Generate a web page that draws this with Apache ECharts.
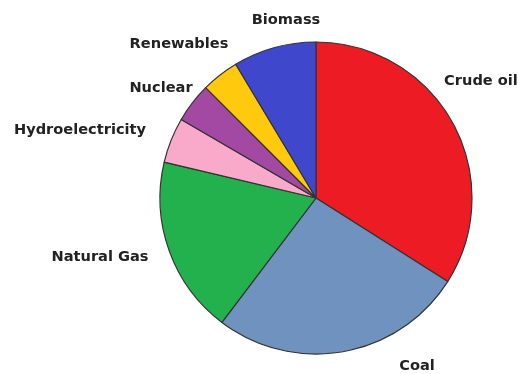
<!DOCTYPE html>
<html>
<head>
<meta charset="utf-8">
<script src="https://cdn.jsdelivr.net/npm/echarts@6/dist/echarts.min.js"></script>
<style>
html,body{margin:0;padding:0;background:#fff;}
#chart{width:518px;height:374px;}
</style>
</head>
<body>
<div id="chart"></div>
<script>
const categories = ['Crude oil', 'Coal', 'Natural Gas', 'Hydroelectricity', 'Nuclear', 'Renewables', 'Biomass'];
const values = [34.0, 26.3, 18.4, 4.7, 4.1, 3.9, 8.6];
const colors = ['#ED1C24', '#7092BE', '#22B14C', '#F9A9C9', '#A349A4', '#FFC90E', '#3F48CC'];
// label anchor points (layout, not data)
const labelPos = [[481, 81], [417, 366], [100, 257], [80, 130], [161, 88], [179, 44], [286, 20]];

const chart = echarts.init(document.getElementById('chart'), null, {renderer: 'canvas'});
chart.setOption({
  animation: false,
  backgroundColor: '#ffffff',
  series: [{
    type: 'pie',
    center: [316, 198],
    radius: 156,
    startAngle: 90,
    clockwise: true,
    avoidLabelOverlap: false,
    data: categories.map((c, i) => ({name: c, value: values[i], itemStyle: {color: colors[i]}})),
    itemStyle: {borderColor: '#333333', borderWidth: 1.2},
    label: {
      show: true,
      position: 'outside',
      formatter: '{b}',
      fontFamily: 'DejaVu Sans',
      fontWeight: 'bold',
      fontSize: 14.6,
      color: '#222222'
    },
    labelLine: {show: false},
    labelLayout: function (p) {
      const pos = labelPos[p.dataIndex];
      return {x: pos[0], y: pos[1], align: 'center', verticalAlign: 'middle'};
    },
    emphasis: {disabled: true}
  }]
});
</script>
</body>
</html>
